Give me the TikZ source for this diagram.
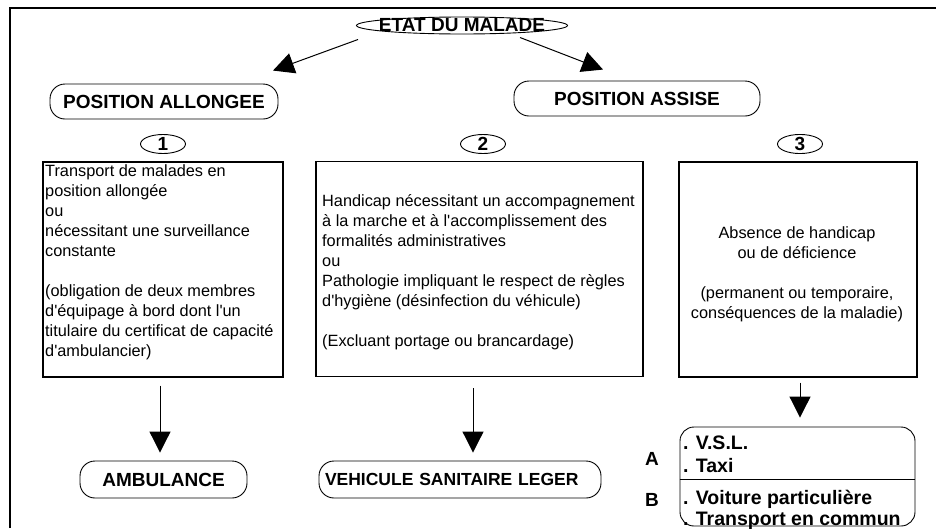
\documentclass[tikz,border=0pt]{standalone}
\usepackage{fontspec}
\setmainfont{Liberation Sans}
\usetikzlibrary{arrows.meta,shapes.geometric}

\begin{document}
\begin{tikzpicture}[x=1pt,y=-1pt,
	titre/.style={font=\fontsize{19}{22}\selectfont\bfseries},
	pill/.style={draw,rounded corners=15pt,line width=0.9pt,minimum height=35pt,inner sep=0pt,titre},
	cadre/.style={draw,line width=1.4pt,minimum width=240pt,minimum height=215pt,inner sep=0pt},
	texte/.style={font=\fontsize{16.3}{20}\selectfont,inner sep=0pt},
	numero/.style={draw,ellipse,line width=0.9pt,minimum width=45pt,minimum height=19pt,inner sep=0pt,titre},
	choix/.style={font=\fontsize{19.5}{22}\selectfont\bfseries,inner sep=0pt,anchor=base west},
	fleche/.style={line width=1pt,-{Triangle[width=21pt,length=21pt]}}]
	\useasboundingbox (0,0) rectangle (936,528);
	\draw[line width=2pt] (10,528) -- (10,8) -- (936,8);

	\node[titre,inner sep=0pt] (etat) at (462,25.5) {ETAT DU MALADE};
	\draw[line width=0.9pt] (etat.center) ellipse [x radius=105.5pt,y radius=8.5pt];

	\node[pill,minimum width=228pt] (allongee) at (164,101.5) {POSITION ALLONGEE};
	\node[pill,minimum width=246pt] (assise) at (637,98.5) {POSITION ASSISE};
	\draw[fleche] ([xshift=-104pt,yshift=-14pt]etat.center) -- ([xshift=109pt,yshift=13pt]allongee.north);
	\draw[fleche] ([xshift=58pt,yshift=-12pt]etat.center) -- ([xshift=-34pt,yshift=11pt]assise.north);

	\node[numero] (n1) at (163,144) {1};
	\node[numero] (n2) at (483,144) {2};
	\node[numero] (n3) at (800,144) {3};

	\node[cadre] (box1) at (163,269.5) {};
	\node[texte,anchor=north west,align=left] (txt1) at (45,164) {Transport de malades en\\position allongée\\ou\\nécessitant une surveillance\\constante\\[20pt](obligation de deux membres\\d\textquotesingle équipage à bord dont l\textquotesingle un\\titulaire du certificat de capacité\\d\textquotesingle ambulancier)};

	\node[cadre,minimum width=327pt] (box2) at (479.5,269) {};
	\node[texte,anchor=north west,align=left] (txt2) at (322,194) {Handicap nécessitant un accompagnement\\à la marche et à l\textquotesingle accomplissement des\\formalités administratives\\ou\\Pathologie impliquant le respect de règles\\d\textquotesingle hygiène (désinfection du véhicule)\\[20pt](Excluant portage ou brancardage)};

	\node[cadre,minimum width=238pt] (box3) at (798,269.5) {};
	\node[texte,anchor=north,align=center] (txt3) at (797,226) {Absence de handicap\\ou de déficience\\[20pt](permanent ou temporaire,\\conséquences de la maladie)};

	\node[pill,minimum width=167pt,minimum height=37pt] (amb) at (163.5,479.5) {AMBULANCE};
	\node[pill,minimum width=282pt,minimum height=37pt,text width=270pt,align=left,font=\fontsize{17.5}{20}\selectfont\bfseries] (vsl) at (460,479.5) {VEHICULE SANITAIRE LEGER};
	\node[draw,rounded corners=14pt,line width=0.9pt,minimum width=235pt,minimum height=99pt] (moyens) at (797.5,476.5) {};
	\coordinate (sep) at (0,479);
	\draw[line width=0.9pt] (moyens.west |- sep) -- (moyens.east |- sep);

	\draw[fleche] ([xshift=-3pt,yshift=-8pt]box1.south) -- ([xshift=-3.5pt,yshift=8pt]amb.north);
	\draw[fleche] ([xshift=-6.5pt,yshift=-11pt]box2.south) -- ([xshift=13pt,yshift=8pt]vsl.north);
	\draw[fleche] ([xshift=2pt,yshift=-5pt]box3.south) -- ([xshift=2.5pt,yshift=9pt]moyens.north);

	\node[choix] (m1) at (683,449) {. V.S.L.};
	\node[choix] (m2) at (683,472) {. Taxi};
	\node[choix] (m3) at (683,504) {. Voiture particulière};
	\node[choix] (m4) at (683,525) {. Transport en commun};
	\node[titre,anchor=base] (la) at (652,465) {A};
	\node[titre,anchor=base] (lb) at (652,506) {B};
\end{tikzpicture}
\end{document}
